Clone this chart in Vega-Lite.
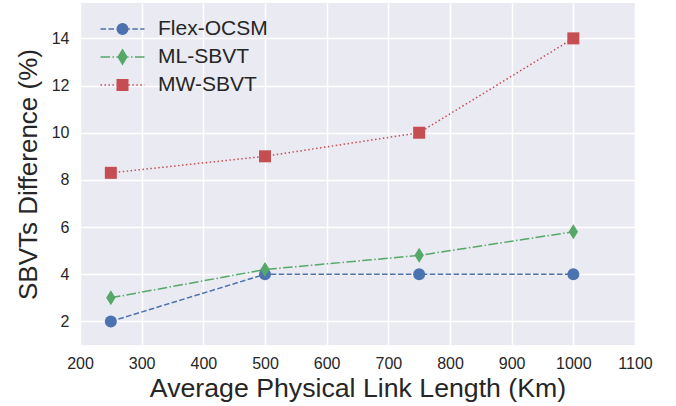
{
  "$schema": "https://vega.github.io/schema/vega-lite/v6.json",
  "width": 555,
  "height": 342,
  "autosize": "none",
  "padding": {"left": 80, "top": 3, "right": 41, "bottom": 61},
  "background": "white",
  "config": {
    "view": {"fill": "#EAEAF2", "stroke": null},
    "axis": {
      "domain": false,
      "ticks": false,
      "tickSize": 0,
      "gridColor": "white",
      "gridWidth": 1.5,
      "gridOpacity": 1,
      "labelFont": "Liberation Sans",
      "labelFontSize": 16,
      "labelColor": "#262626",
      "titleFont": "Liberation Sans",
      "titleFontSize": 26,
      "titleFontWeight": "normal",
      "titleColor": "#262626"
    }
  },
  "data": {
    "values": [
      {"series": "Flex-OCSM", "length": 250, "diff": 2},
      {"series": "Flex-OCSM", "length": 500, "diff": 4},
      {"series": "Flex-OCSM", "length": 750, "diff": 4},
      {"series": "Flex-OCSM", "length": 1000, "diff": 4},
      {"series": "ML-SBVT", "length": 250, "diff": 3},
      {"series": "ML-SBVT", "length": 500, "diff": 4.2},
      {"series": "ML-SBVT", "length": 750, "diff": 4.8},
      {"series": "ML-SBVT", "length": 1000, "diff": 5.8},
      {"series": "MW-SBVT", "length": 250, "diff": 8.3},
      {"series": "MW-SBVT", "length": 500, "diff": 9},
      {"series": "MW-SBVT", "length": 750, "diff": 10},
      {"series": "MW-SBVT", "length": 1000, "diff": 14}
    ]
  },
  "encoding": {
    "x": {
      "field": "length",
      "type": "quantitative",
      "scale": {"domain": [200, 1100], "nice": false},
      "axis": {
        "values": [200, 300, 400, 500, 600, 700, 800, 900, 1000, 1100],
        "format": "d",
        "title": "Average Physical Link Length (Km)",
        "titleFontSize": 26.7,
        "labelPadding": 10,
        "titlePadding": 4,
        "labelFlush": false
      }
    },
    "y": {
      "field": "diff",
      "type": "quantitative",
      "scale": {"domain": [1, 15.5], "nice": false, "zero": false},
      "axis": {
        "values": [2, 4, 6, 8, 10, 12, 14],
        "title": "SBVTs Difference (%)",
        "labelPadding": 11,
        "titlePadding": 10
      }
    },
    "color": {
      "field": "series",
      "type": "nominal",
      "scale": {"domain": ["Flex-OCSM", "ML-SBVT", "MW-SBVT"], "range": ["#4C72B0", "#55A868", "#C44E52"]},
      "legend": {
        "title": null,
        "orient": "none",
        "legendX": 32,
        "legendY": 15.5,
        "padding": 0,
        "labelFont": "Liberation Sans",
        "labelFontSize": 21,
        "labelColor": "#262626",
        "labelOffset": 25,
        "rowPadding": 6,
        "symbolSize": 225,
        "symbolStrokeWidth": 1.5,
        "symbolOpacity": 1,
        "symbolFillColor": {"expr": "scale('color', datum.value)"},
        "symbolStrokeColor": {"expr": "scale('color', datum.value)"},
        "symbolType": {"expr": "datum.value === 'Flex-OCSM' ? 'M-2.933,0L-2.193,0M-1.873,0L-1.133,0M-0.813,0L-0.073,0M0.247,0L0.987,0M1.307,0L2.047,0M2.367,0L2.933,0M0.7,0A0.7,0.7,0,1,1,-0.7,0A0.7,0.7,0,1,1,0.7,0Z' : datum.value === 'ML-SBVT' ? 'M-2.933,0L-1.653,0M-1.333,0L-1.133,0M-0.813,0L0.813,0M1.133,0L1.333,0M1.653,0L2.933,0M0,-0.95L0.57,0L0,0.95L-0.57,0Z' : 'M-2.933,0L-2.733,0M-2.403,0L-2.203,0M-1.873,0L-1.673,0M-1.343,0L-1.143,0M-0.813,0L-0.613,0M0.777,0L0.977,0M1.307,0L1.507,0M1.837,0L2.037,0M2.367,0L2.567,0M2.897,0L2.933,0M-0.7,-0.7L0.7,-0.7L0.7,0.7L-0.7,0.7Z'"}
      }
    }
  },
  "layer": [
    {
      "mark": {"type": "line", "strokeWidth": 1.5},
      "encoding": {
        "strokeDash": {
          "field": "series",
          "type": "nominal",
          "scale": {"range": [[5.55, 2.4], [9.6, 2.4, 1.5, 2.4], [1.5, 2.475]]},
          "legend": null
        }
      }
    },
    {
      "mark": {"type": "point", "filled": true, "opacity": 1, "size": 144},
      "encoding": {
        "shape": {
          "field": "series",
          "type": "nominal",
          "scale": {"range": ["circle", "M0,-1.25L0.78,0L0,1.25L-0.78,0Z", "square"]},
          "legend": null
        }
      }
    }
  ]
}
